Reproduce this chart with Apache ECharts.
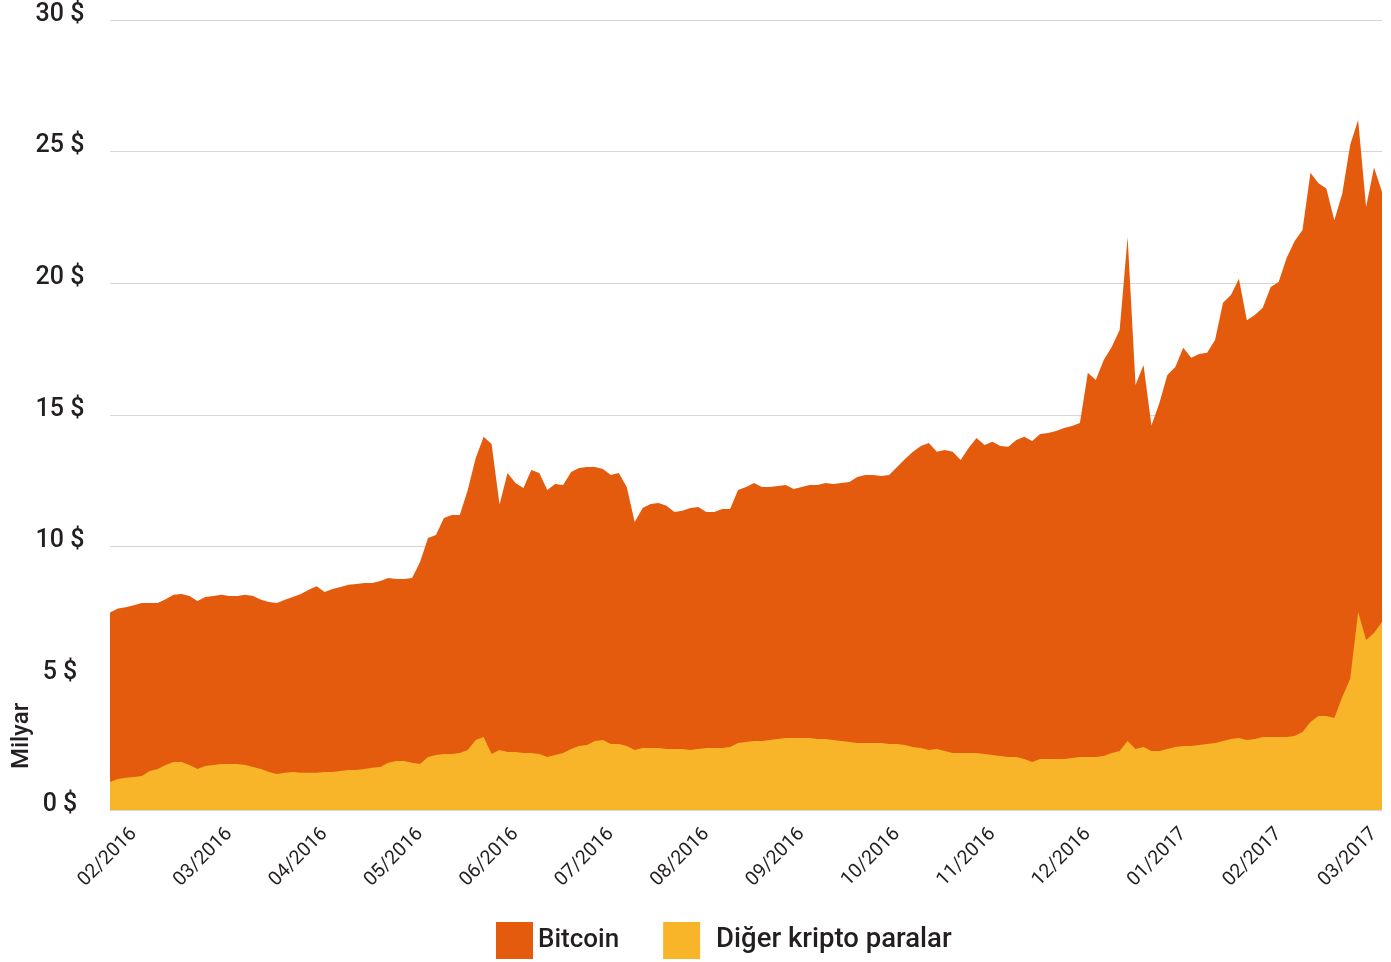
<!DOCTYPE html>
<html>
<head>
<meta charset="utf-8">
<script src="https://cdn.jsdelivr.net/npm/echarts@6/dist/echarts.min.js"></script>
<style>
html,body{margin:0;padding:0;background:#fff;}
#chart{width:1391px;height:962px;}
</style>
</head>
<body>
<div id="chart"></div>
<script>
// Month tick labels (one every 12 samples, first at sample 3)
const monthLabels = ['02/2016','03/2016','04/2016','05/2016','06/2016','07/2016','08/2016','09/2016','10/2016','11/2016','12/2016','01/2017','02/2017','03/2017'];
const firstLabelIndex = 3;
const samplesPerMonth = 12;

// Total market value (top of the orange area), billion $
const totalCap = [
 7.5,7.65,7.7,7.78,7.86,7.86,7.86,8.0,8.17,8.2,
 8.13,7.94,8.09,8.13,8.17,8.13,8.13,8.17,8.13,7.98,
 7.9,7.86,7.98,8.09,8.2,8.36,8.5,8.28,8.39,8.47,
 8.55,8.58,8.62,8.62,8.7,8.81,8.77,8.77,8.81,9.42,
 10.33,10.44,11.09,11.2,11.2,12.15,13.37,14.17,13.9,11.6,
 12.8,12.42,12.23,12.91,12.8,12.15,12.38,12.34,12.84,12.99,
 13.03,13.03,12.95,12.72,12.8,12.27,10.94,11.47,11.62,11.66,
 11.55,11.32,11.36,11.47,11.51,11.32,11.32,11.43,11.43,12.15,
 12.27,12.42,12.27,12.27,12.3,12.34,12.19,12.27,12.34,12.34,
 12.42,12.38,12.42,12.46,12.65,12.72,12.72,12.68,12.72,13.03,
 13.33,13.6,13.82,13.94,13.6,13.67,13.6,13.29,13.75,14.13,
 13.86,13.98,13.82,13.79,14.05,14.17,14.01,14.28,14.32,14.39,
 14.51,14.58,14.7,16.6,16.33,17.09,17.58,18.23,21.76,16.14,
 16.9,14.6,15.46,16.52,16.82,17.55,17.17,17.32,17.36,17.85,
 19.26,19.56,20.17,18.6,18.8,19.07,19.86,20.05,20.96,21.6,
 22.03,24.2,23.8,23.6,22.4,23.4,25.26,26.2,22.9,24.4,
 23.47
];

// Other crypto currencies (yellow area), billion $
const otherCap = [
 1.06,1.18,1.22,1.25,1.29,1.48,1.56,1.71,1.82,1.82,
 1.71,1.56,1.67,1.71,1.75,1.75,1.75,1.71,1.63,1.56,
 1.44,1.37,1.41,1.44,1.41,1.41,1.41,1.44,1.44,1.48,
 1.52,1.52,1.56,1.6,1.63,1.79,1.86,1.86,1.79,1.75,
 2.01,2.09,2.13,2.13,2.16,2.28,2.66,2.77,2.13,2.28,
 2.2,2.2,2.16,2.16,2.13,2.01,2.09,2.16,2.32,2.43,
 2.47,2.62,2.66,2.51,2.51,2.43,2.28,2.35,2.35,2.35,
 2.32,2.32,2.32,2.28,2.32,2.35,2.35,2.35,2.39,2.54,
 2.58,2.62,2.62,2.66,2.7,2.73,2.73,2.73,2.73,2.7,
 2.7,2.66,2.62,2.58,2.54,2.54,2.54,2.54,2.51,2.51,
 2.47,2.39,2.35,2.28,2.32,2.24,2.16,2.16,2.16,2.16,
 2.13,2.09,2.05,2.01,2.01,1.94,1.82,1.94,1.94,1.94,
 1.94,1.97,2.01,2.01,2.01,2.05,2.16,2.24,2.62,2.32,
 2.39,2.24,2.24,2.32,2.39,2.43,2.43,2.47,2.51,2.54,
 2.62,2.7,2.73,2.66,2.7,2.77,2.77,2.77,2.77,2.81,
 2.96,3.34,3.57,3.57,3.49,4.29,4.98,7.52,6.46,6.72,
 7.14
];

const yTicks = [0,5,10,15,20,25,30];
const seriesNames = ['Bitcoin','Diğer kripto paralar'];
const colors = ['#E55B0E','#F8B52A'];

const categories = totalCap.map((_, i) => String(i));
const isMonthTick = i => i >= firstLabelIndex && (i - firstLabelIndex) % samplesPerMonth === 0;

const chart = echarts.init(document.getElementById('chart'), null, {renderer:'canvas'});
const font = 'Roboto, "Noto Sans", sans-serif';
chart.setOption({
  animation:false,
  textStyle:{fontFamily:font},
  grid:{left:110, right:9, top:20, bottom:152, containLabel:false},
  xAxis:{
    type:'category',
    data:categories,
    boundaryGap:false,
    axisLine:{show:false},
    axisTick:{show:false},
    splitLine:{show:false},
    axisLabel:{
      interval:(i)=>isMonthTick(i),
      formatter:(v,i)=> isMonthTick(i) ? monthLabels[(i-firstLabelIndex)/samplesPerMonth] : '',
      rotate:45, margin:21, fontSize:19.5, color:'#231f20', fontFamily:font
    }
  },
  yAxis:{
    type:'value', min:yTicks[0], max:yTicks[yTicks.length-1], interval:5,
    axisLine:{show:false}, axisTick:{show:false},
    splitLine:{lineStyle:{color:'#d6d6d6', width:1}},
    axisLabel:{
      formatter:v=>v+' $', align:'center', margin:50,
      verticalAlign:'bottom', lineHeight:11,
      fontSize:25, fontWeight:500, color:'#231f20', fontFamily:font
    }
  },
  legend:{
    data:[
      {name:seriesNames[0]},
      {name:seriesNames[1], textStyle:{padding:[0,0,0,11], fontSize:27.5}}
    ],
    left:491, top:917, icon:'rect',
    itemWidth:37, itemHeight:37, itemGap:44,
    textStyle:{fontSize:26, fontWeight:500, color:'#231f20', fontFamily:font}
  },
  graphic:[{
    type:'text', x:22, y:736, rotation:Math.PI/2,
    style:{text:'Milyar', fontSize:24, fontWeight:500, fill:'#231f20', fontFamily:font, align:'center', verticalAlign:'middle'}
  }],
  series:[
    {name:seriesNames[0], type:'line', data:totalCap, symbol:'none', smooth:false,
     color:colors[0], lineStyle:{width:0}, areaStyle:{color:colors[0], opacity:1}, z:2},
    {name:seriesNames[1], type:'line', data:otherCap, symbol:'none', smooth:false,
     color:colors[1], lineStyle:{width:0}, areaStyle:{color:colors[1], opacity:1}, z:3}
  ]
});
</script>
</body>
</html>
